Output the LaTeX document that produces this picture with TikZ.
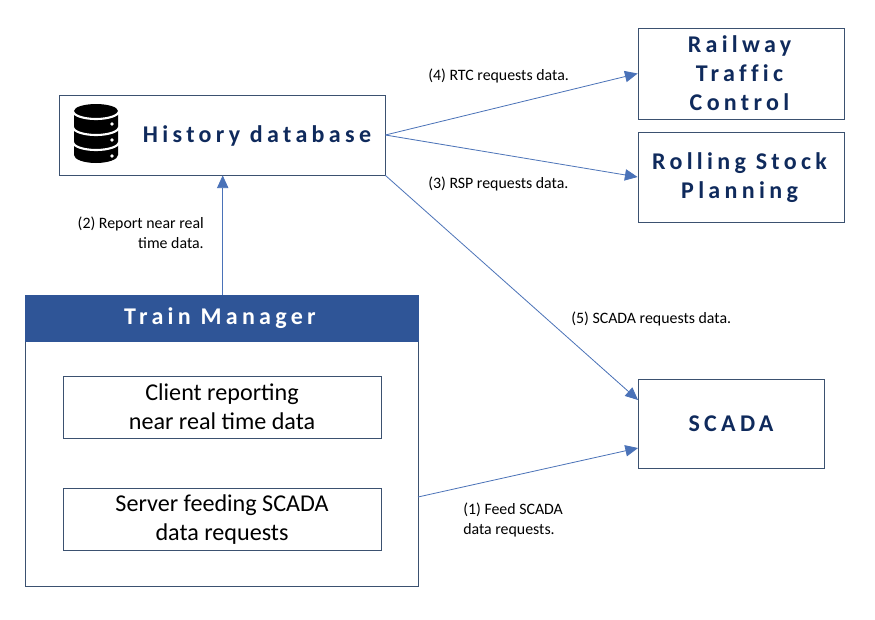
\documentclass[tikz,border=0pt]{standalone}
\usepackage{fontspec}
\setmainfont{Carlito}
\newfontfamily\spaced[LetterSpace=18,Ligatures=NoCommon]{Carlito}
\usepackage{tikz}
\usetikzlibrary{arrows.meta}

\definecolor{boxline}{HTML}{3B5170}
\definecolor{arrowline}{HTML}{4A72B8}
\definecolor{titletext}{HTML}{0F2A5C}
\definecolor{headerblue}{HTML}{2F5597}

\tikzset{
	box/.style={draw=boxline,line width=0.6pt,fill=white,inner sep=0pt,align=center},
	title/.style={font=\spaced\bfseries\fontsize{18}{21.75}\selectfont,text=titletext,align=center,inner sep=0pt},
	inner/.style={font=\fontsize{18.1}{21.75}\selectfont,align=center,inner sep=0pt},
	note/.style={font=\fontsize{11.9}{15}\selectfont,align=left,inner sep=0pt},
	link/.style={draw=arrowline,line width=0.6pt,-{Triangle[length=9.5pt,width=8.5pt,fill=arrowline]}}
}

\begin{document}
\begin{tikzpicture}[x=0.75pt,y=-0.75pt]
	\useasboundingbox (0,0) rectangle (875,619);
	\fill[white] (0,0) rectangle (875,619);

	% boxes
	\path (222,135) node[box,minimum width=244.5pt,minimum height=60pt] (hist) {};
	\path (741,73.5) node[box,minimum width=154.5pt,minimum height=68.25pt] (rtc) {};
	\path (741,177) node[box,minimum width=154.5pt,minimum height=67.5pt] (rsp) {};
	\path (731,423.5) node[box,minimum width=139.5pt,minimum height=66.75pt] (scada) {};
	\path (221.5,440.5) node[box,minimum width=294.75pt,minimum height=218.25pt] (tm) {};
	\path (221.5,318) node[fill=headerblue,draw=headerblue,line width=0.6pt,minimum width=294.75pt,minimum height=34.5pt,inner sep=0pt] (tmhead) {};
	\path (222,407) node[box,minimum width=238.5pt,minimum height=46.5pt] (client) {};
	\path (222,519) node[box,minimum width=238.5pt,minimum height=46.5pt] (server) {};

	% database icon
	\fill[black] (74,111) -- (74,155) arc[start angle=180,end angle=0,x radius=22,y radius=8]
		-- (118,111) arc[start angle=0,end angle=-180,x radius=22,y radius=7] -- cycle;
	\draw[white,line width=1.6pt] (73,111) arc[start angle=180,end angle=0,x radius=23,y radius=8];
	\draw[white,line width=1.6pt] (73,127) arc[start angle=180,end angle=0,x radius=23,y radius=8];
	\draw[white,line width=1.6pt] (73,142) arc[start angle=180,end angle=0,x radius=23,y radius=8];
	\fill[white] (112,124) circle (1.8);
	\fill[white] (112,140) circle (1.8);
	\fill[white] (112,156) circle (1.8);

	% titles
	\path (257,135.5) node[title] (histtext) {History database};
	\path (739.5,73) node[title] (rtctext) {Railway\\Traffic\\Control};
	\path (739.5,178) node[title] (rsptext) {Rolling Stock\\Planning};
	\path (731,424) node[title] (scadatext) {SCADA};
	\path (220,318.5) node[title,text=white] (tmtext) {Train Manager};
	\path (222,407) node[inner] (clienttext) {Client reporting\\near real time data};
	\path (222,520) node[inner] (servertext) {Server feeding SCADA\\data requests};

	% labels
	\path (428,75.5) node[note,anchor=west] (l4) {(4) RTC requests data.};
	\path (428,183.5) node[note,anchor=west] (l3) {(3) RSP requests data.};
	\path (571,318.5) node[note,anchor=west] (l5) {(5) SCADA requests data.};
	\path (463,520) node[note,anchor=west] (l1) {(1) Feed SCADA\\data requests.};
	\path (204,232.5) node[note,anchor=east,align=right] (l2) {(2) Report near real\\time data.};

	% connectors
	\coordinate (tmup) at (222.7,295);
	\coordinate (scadaup) at (638,400);
	\coordinate (scadalow) at (638,448);
	\coordinate (tmout) at (418,497);
	\draw[link] (tmup) -- (tmup |- hist.south);
	\draw[link] (hist.east) -- (rtc.west);
	\draw[link] (hist.east) -- (rsp.west);
	\draw[link] (hist.south east) -- (scadaup);
	\draw[link] (tmout) -- (scadalow);
\end{tikzpicture}
\end{document}
